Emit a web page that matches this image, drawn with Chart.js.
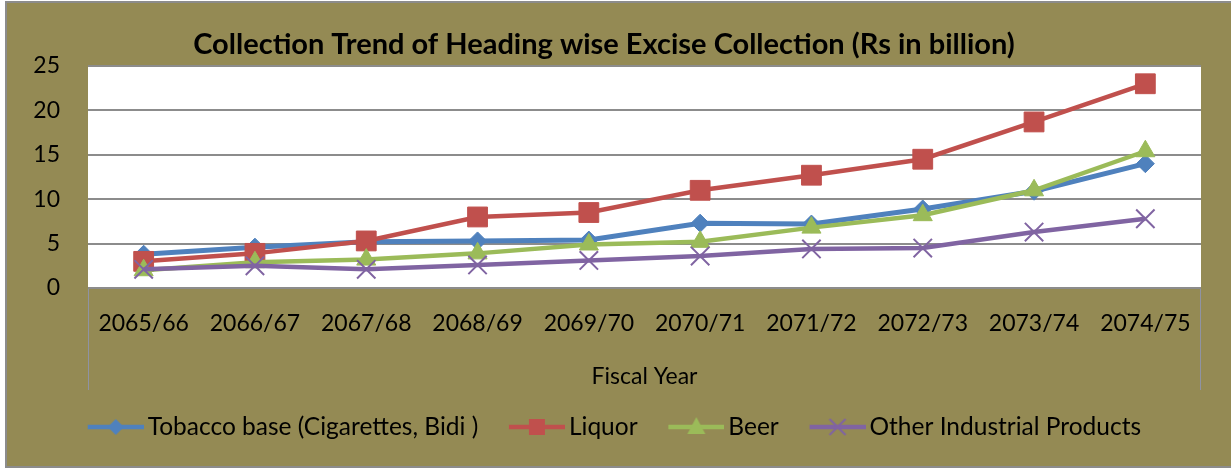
<!DOCTYPE html>
<html>
<head>
<meta charset="utf-8">
<script src="https://cdn.jsdelivr.net/npm/chart.js@4/dist/chart.umd.min.js"></script>
<style>
  html, body { margin: 0; padding: 0; background: #fff; }
  #frame { position: absolute; left: 5px; top: 1px; width: 1224px; height: 463px;
           border-left: 2px solid #8c8c8c; border-top: 2px solid #8c8c8c; border-bottom: 2px solid #8c8c8c;
           background: #948a54; }
  #wrap { position: relative; width: 1224px; height: 463px; }
</style>
</head>
<body>
<div id="frame"><div id="wrap"><canvas id="exciseChart"></canvas></div></div>
<script>
/* Heading wise excise collection, Rs in billion */
const years = ['2065/66', '2066/67', '2067/68', '2068/69', '2069/70', '2070/71', '2071/72', '2072/73', '2073/74', '2074/75'];
const tobacco = [3.8, 4.6, 5.2, 5.3, 5.4, 7.3, 7.2, 8.9, 10.9, 14.0];
const liquor = [3.0, 3.9, 5.3, 8.0, 8.5, 11.0, 12.7, 14.5, 18.7, 23.0];
const beer = [2.0, 2.9, 3.2, 3.9, 4.9, 5.2, 6.8, 8.2, 11.0, 15.4];
const otherInd = [2.1, 2.5, 2.1, 2.6, 3.1, 3.6, 4.4, 4.5, 6.3, 7.8];
const seriesNames = ['Tobacco base (Cigarettes, Bidi )', 'Liquor', 'Beer', 'Other Industrial Products'];
const yTicks = [0, 5, 10, 15, 20, 25];

const colors = ['#4f81bd', '#c0504d', '#9bbb59', '#8064a2'];
const shapes = ['rectRot', 'rect', 'triangle', 'crossRot'];
const FONT = 'Lato, "Open Sans", sans-serif';

// legend icon: a short line with the marker in the middle
function makeIcon(color, shape) {
    const c = document.createElement('canvas');
    c.width = 85; c.height = 24;
    const g = c.getContext('2d');
    const x0 = 29, cx = 57, cy = 12;
    g.strokeStyle = color; g.fillStyle = color; g.lineWidth = 4.5;
    g.beginPath(); g.moveTo(x0, cy); g.lineTo(85, cy); g.stroke();
    g.beginPath();
    if (shape === 'rectRot') { g.moveTo(cx, cy - 8); g.lineTo(cx + 8, cy); g.lineTo(cx, cy + 8); g.lineTo(cx - 8, cy); g.closePath(); g.fill(); }
    else if (shape === 'rect') { g.fillRect(cx - 8, cy - 8, 16, 16); }
    else if (shape === 'triangle') { g.moveTo(cx, cy - 10); g.lineTo(cx + 9, cy + 7); g.lineTo(cx - 9, cy + 7); g.closePath(); g.fill(); }
    else { g.lineWidth = 2; g.moveTo(cx - 8, cy - 8); g.lineTo(cx + 8, cy + 8); g.moveTo(cx + 8, cy - 8); g.lineTo(cx - 8, cy + 8); g.stroke(); }
    return c;
}
const icons = colors.map((c, i) => makeIcon(c, shapes[i]));

const plotBg = {
    id: 'plotBg',
    beforeDraw(chart) {
        const { ctx, chartArea: a } = chart;
        ctx.save();
        ctx.fillStyle = '#fff';
        ctx.fillRect(a.left, a.top, a.right - a.left, a.bottom - a.top);
        ctx.strokeStyle = '#8f93a3'; ctx.lineWidth = 1;
        ctx.beginPath();
        ctx.moveTo(a.left + 0.5, a.bottom); ctx.lineTo(a.left + 0.5, a.bottom + 102);
        ctx.moveTo(a.right - 0.5, a.bottom); ctx.lineTo(a.right - 0.5, a.bottom + 102);
        ctx.stroke();
        ctx.restore();
    }
};

const allSeries = [tobacco, liquor, beer, otherInd];
const radii = [9, 14, 11, 13];
const datasets = allSeries.map((d, i) => ({
    label: seriesNames[i], data: d,
    borderColor: colors[i], backgroundColor: colors[i],
    borderWidth: i === 0 ? 5 : 4.5, tension: 0,
    pointStyle: shapes[i], pointRadius: radii[i], pointHoverRadius: radii[i],
    pointBorderColor: colors[i], pointBackgroundColor: colors[i],
    pointBorderWidth: i === 3 ? 2 : 1,
    order: 3 - i
}));

new Chart(document.getElementById('exciseChart'), {
    type: 'line',
    data: { labels: years, datasets },
    plugins: [plotBg],
    options: {
        responsive: true, maintainAspectRatio: false, animation: false,
        layout: { padding: { left: 0, right: 30, top: 0, bottom: 16.75 } },
        plugins: {
            title: { display: true, text: 'Collection Trend of Heading wise Excise Collection (Rs in billion)',
                color: '#000', font: { family: FONT, size: 29, weight: 'bold' }, padding: { top: 24.6, bottom: 3.6 } },
            legend: {
                position: 'bottom',
                labels: {
                    usePointStyle: true, pointStyleWidth: 68.5, padding: 10, color: '#000',
                    font: { family: FONT, size: 24.5 },
                    generateLabels: chart => chart.data.datasets.map((ds, i) => ({
                        text: ds.label, pointStyle: icons[i], fillStyle: 'transparent', strokeStyle: 'transparent',
                        lineWidth: 0, hidden: false, datasetIndex: i, fontColor: '#000'
                    }))
                }
            },
            tooltip: { enabled: false }
        },
        scales: {
            x: {
                offset: true,
                grid: { display: false }, border: { display: false },
                ticks: { color: '#000', font: { family: FONT, size: 23 }, padding: 14, maxRotation: 0, autoSkip: false },
                title: { display: true, text: 'Fiscal Year', color: '#000', font: { family: FONT, size: 23 }, padding: { top: 0, bottom: 14 } },
                afterFit: s => { s.height = 116.75; }
            },
            y: {
                min: 0, max: 25,
                afterBuildTicks: s => { s.ticks = yTicks.map(v => ({ value: v })); },
                grid: { color: '#8c8c8c', lineWidth: 2, drawTicks: false },
                border: { display: false },
                ticks: { color: '#000', font: { family: FONT, size: 23 }, padding: 28 },
                afterFit: s => { s.width = 81; }
            }
        }
    }
});
</script>
</body>
</html>
